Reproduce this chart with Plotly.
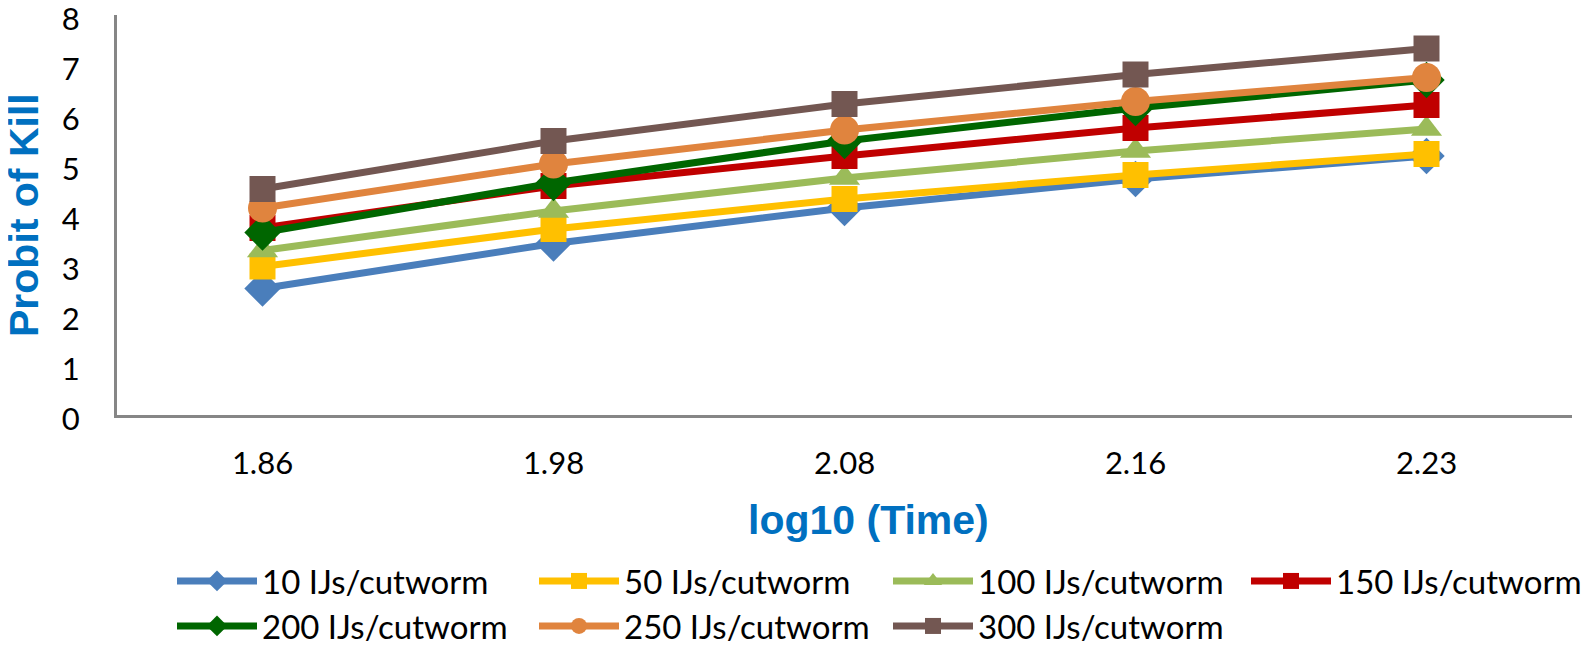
import plotly.graph_objects as go

time_labels = ["1.86", "1.98", "2.08", "2.16", "2.23"]
series_names = ["10 IJs/cutworm", "50 IJs/cutworm", "100 IJs/cutworm", "150 IJs/cutworm",
                "200 IJs/cutworm", "250 IJs/cutworm", "300 IJs/cutworm"]
s10 = [2.53, 3.43, 4.14, 4.72, 5.18]
s50 = [2.97, 3.72, 4.32, 4.80, 5.22]
s100 = [3.29, 4.08, 4.74, 5.28, 5.72]
s150 = [3.74, 4.58, 5.18, 5.74, 6.20]
s200 = [3.65, 4.64, 5.48, 6.14, 6.70]
s250 = [4.14, 5.02, 5.70, 6.27, 6.75]
s300 = [4.52, 5.48, 6.22, 6.81, 7.33]
series_values = [s10, s50, s100, s150, s200, s250, s300]

colors = ["#4A7EBB", "#FFC000", "#9BBB59", "#C00000", "#006600", "#E0843E", "#735752"]
symbols = ["diamond", "square", "triangle-up", "square", "diamond", "circle", "square"]
sizes = [28, 26, 27, 26, 28, 29, 26]

# page body has an 8px default margin; figure is sized to fit the window
OFF = 8
W, H = 1592 - OFF, 649 - OFF
L, R, T, B = 117 - OFF, 20, 15 - OFF, 234
pw, ph = W - L - R, H - T - B

def px_x(screen_px):
    return (screen_px - OFF - L) / pw

def px_y(screen_px):
    return (H - B - (screen_px - OFF)) / ph

# legend placement in figure pixels (column left, row top)
cols = [164, 526, 880, 1238]
rows = [545, 590]
leg_pos = [(cols[0], rows[0]), (cols[1], rows[0]), (cols[2], rows[0]), (cols[3], rows[0]),
           (cols[0], rows[1]), (cols[1], rows[1]), (cols[2], rows[1])]

fig = go.Figure()
for i, (name, vals) in enumerate(zip(series_names, series_values)):
    lname = "legend" if i == 0 else f"legend{i+1}"
    fig.add_trace(go.Scatter(
        x=time_labels, y=vals, name=name, mode="lines+markers",
        line=dict(color=colors[i], width=7),
        marker=dict(symbol=symbols[i], size=sizes[i], color=colors[i], line=dict(width=0)),
        legend=lname,
    ))

layout_legends = {}
for i, (lx, ly) in enumerate(leg_pos):
    lname = "legend" if i == 0 else f"legend{i+1}"
    layout_legends[lname] = dict(
        x=lx / W, y=1 - ly / H, xanchor="left", yanchor="top",
        xref="container", yref="container",
        font=dict(family="Lato", size=33, color="#000000"),
        bgcolor="rgba(0,0,0,0)", itemwidth=80, borderwidth=0,
        tracegroupgap=0,
    )

fig.update_layout(
    width=W, height=H,
    margin=dict(l=L, r=R, t=T, b=B, autoexpand=False),
    plot_bgcolor="white", paper_bgcolor="white",
    showlegend=True,
    **layout_legends,
    xaxis=dict(
        type="category", range=[-0.5, len(time_labels) - 0.5],
        showgrid=False, showline=True, linecolor="#868686", linewidth=3,
        ticks="", ticklabelstandoff=19, zeroline=False, automargin=False,
        tickfont=dict(family="Lato", size=31, color="#000000"),
    ),
    yaxis=dict(
        range=[0, 8], dtick=1, showgrid=False, showline=True, linecolor="#868686", linewidth=3,
        ticks="", ticklabelstandoff=28, zeroline=False, automargin=False,
        ticklabeloverflow="allow", ticklabelshift=4,
        tickfont=dict(family="Lato", size=31, color="#000000"),
    ),
    annotations=[
        dict(text="<b>log10 (Time)</b>", x=px_x(868), y=px_y(520), xref="paper", yref="paper",
             xanchor="center", yanchor="middle", showarrow=False,
             font=dict(family="Liberation Sans", size=41, color="#0070C0")),
        dict(text="<b>Probit of Kill</b>", x=px_x(24), y=px_y(215), xref="paper", yref="paper",
             xanchor="center", yanchor="middle", showarrow=False, textangle=-90,
             font=dict(family="Liberation Sans", size=41, color="#0070C0")),
    ],
)

fig.write_html("out.html")
